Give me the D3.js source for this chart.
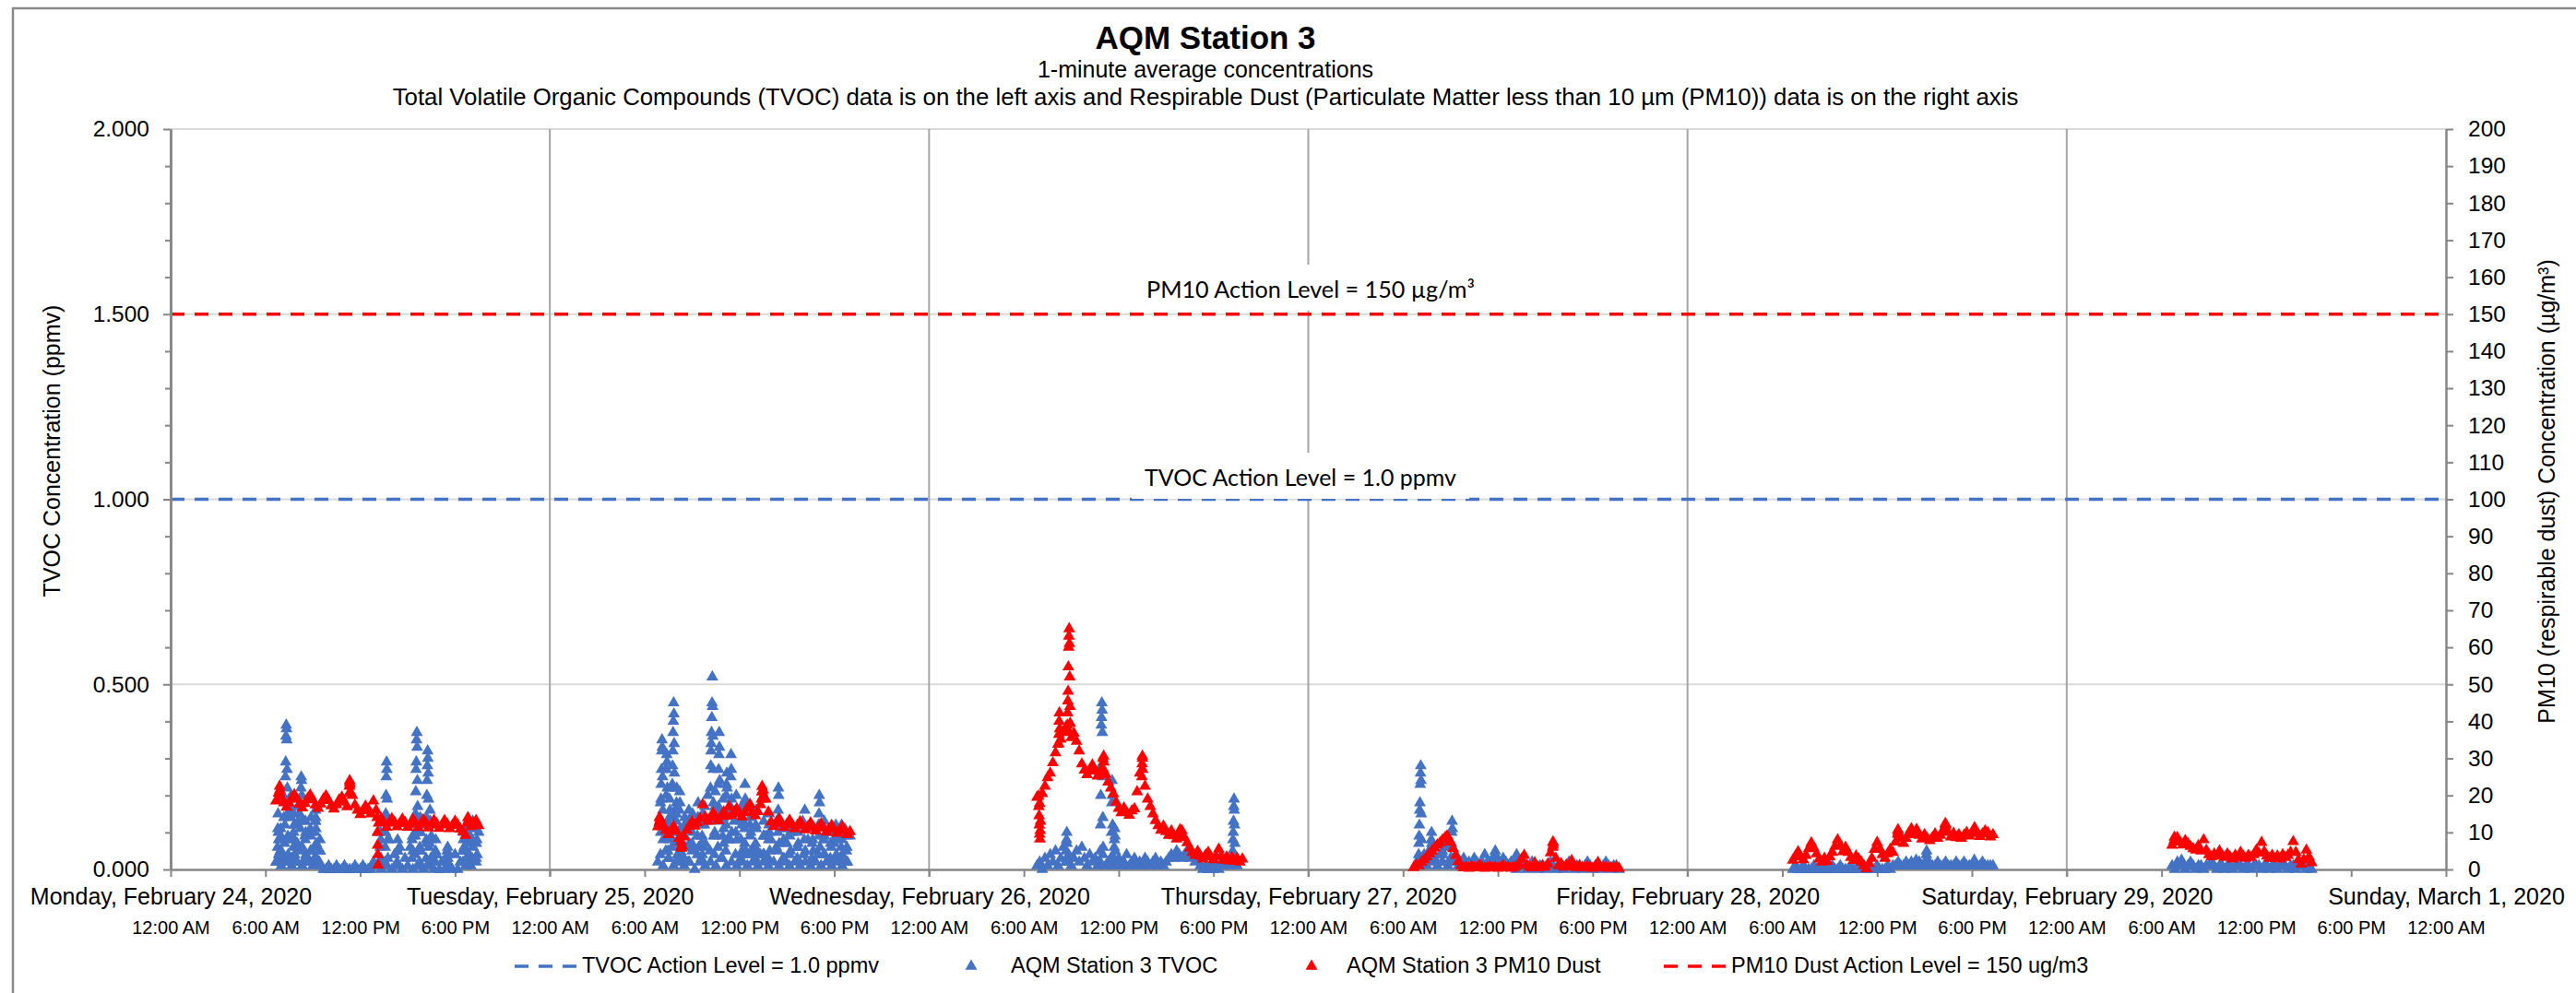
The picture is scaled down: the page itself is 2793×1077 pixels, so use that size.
<!DOCTYPE html>
<html>
<head>
<meta charset="utf-8">
<script src="https://cdn.jsdelivr.net/npm/d3@7"></script>
<style>
body{margin:0;background:#ffffff;}
svg{display:block;font-family:"Liberation Sans",Arial,sans-serif;}
</style>
</head>
<body>
<div id="ChartPart"></div>
<script>
//Chart texts---------------------------------------------------------------------------------------------
var chartTitle = "AQM Station 3";
var chartSubtitles = ["1-minute average concentrations",
	"Total Volatile Organic Compounds (TVOC) data is on the left axis and Respirable Dust (Particulate Matter less than 10 \u00b5m (PM10)) data is on the right axis"];
var leftAxisTitle = "TVOC Concentration (ppmv)";
var rightAxisTitle = "PM10 (respirable dust) Concentration (\u00b5g/m\u00b3)";
var legendLabels = ["TVOC Action Level = 1.0 ppmv", "AQM Station 3 TVOC", "AQM Station 3 PM10 Dust", "PM10 Dust Action Level = 150 ug/m3"];
var actionLabels = ["PM10 Action Level = 150 \u00b5g/m\u00b3", "TVOC Action Level = 1.0 ppmv"];

//Axes-----------------------------------------------------------------------------------------------------
var axisStart = "2020-02-24 00:00";
var axisEnd = "2020-03-01 00:00";
var tvocTicks = [0, 0.5, 1, 1.5, 2];
var tvocMinorTicks = [0.1, 0.2, 0.3, 0.4, 0.6, 0.7, 0.8, 0.9, 1.1, 1.2, 1.3, 1.4, 1.6, 1.7, 1.8, 1.9];
var pm10Ticks = [0, 10, 20, 30, 40, 50, 60, 70, 80, 90, 100, 110, 120, 130, 140, 150, 160, 170, 180, 190, 200];
var tvocActionLevel = 1.0;
var pm10ActionLevel = 150;

//Readings: one list per day, a reading every sampleMinutes from the start time------------------------------
var sampleMinutes = 10;
var tvocStarts = ["2020-02-24 06:40", "2020-02-25 06:50", "2020-02-26 06:50", "2020-02-27 06:50", "2020-02-28 06:40", "2020-02-29 06:40"];
var tvocMon = [0.02,0.08,0.01,0.14,0.02,0.19,0.01,0.12,0.02,0.15,0.01,0.09,0.02,0.11,0.01,0.13,0.02,0.01,0.00,
	0.00,0.01,0.00,0.00,0.01,0.00,0.00,0.01,0.00,0.00,0.00,0.01,0.00,0.00,0.01,0.00,0.00,
	0.00,0.02,0.01,0.10,0.00,0.14,0.01,0.08,0.00,0.04,0.01,0.06,0.00,0.03,
	0.01,0.06,0.00,0.10,0.01,0.12,0.00,0.07,0.01,0.09,0.00,0.04,
	0.00,0.02,0.00,0.05,0.01,0.00,0.04,0.00,0.02,
	0.05,0.01,0.09,0.01,0.12,0.02,0.10];
var tvocTue = [0.02,0.18,0.01,0.27,0.03,0.22,0.01,0.15,0.02,0.10,
	0.01,0.13,0.02,0.07,0.00,0.09,0.02,0.15,0.01,0.20,
	0.02,0.14,0.01,0.17,0.03,0.11,0.01,0.08,0.02,0.13,
	0.01,0.16,0.02,0.07,0.01,0.12,0.02,0.06,0.01,0.04,
	0.02,0.09,0.01,0.08,0.02,0.06,0.01,0.11,0.02,0.07,
	0.01,0.10,0.02,0.06,0.01,0.13,0.02,0.08,0.01,0.05,
	0.02,0.12,0.01,0.08,0.02,0.10,0.01,0.07,0.02,0.09,
	0.01,0.11,0.02,0.09];
var tvocWed = [0.01,0.02,0.00,0.03,0.01,0.04,0.02,0.05,0.01,0.03,
	0.06,0.02,0.04,0.01,0.03,0.05,0.02,0.06,0.03,0.01,
	0.04,0.02,0.03,0.01,0.02,0.04,0.01,0.02,0.03,0.01,
	0.02,0.03,0.01,0.02,0.04,0.01,0.02,0.03,0.01,0.02,
	0.01,0.03,0.02,0.01,0.02,0.03,0.01,0.02,0.01,0.02,
	0.03,0.04,0.03,0.05,0.04,0.03,0.04,0.05,0.03,0.04,
	0.02,0.03,0.01,0.00,0.01,0.00,0.01,0.00,0.01,0.00,
	0.02,0.01,0.02,0.01,0.03,0.02,0.01];
var tvocThu = [0.01,0.03,0.02,0.04,0.01,0.05,0.02,0.03,0.01,0.04,
	0.02,0.06,0.01,0.03,0.02,0.04,0.01,0.02,0.03,0.01,
	0.02,0.01,0.03,0.02,0.01,0.02,0.04,0.02,0.01,0.03,
	0.01,0.02,0.01,0.03,0.02,0.01,0.02,0.01,0.00,0.01,
	0.02,0.01,0.00,0.01,0.02,0.01,0.00,0.01,0.01,0.00,
	0.01,0.02,0.01,0.00,0.01,0.01,0.00,0.01,0.02,0.01,
	0.00,0.01,0.01,0.00,0.01,0.02,0.01,0.00,0.01,0.01,
	0.00,0.01,0.02,0.01,0.00,0.01,0.01,0.00];
var tvocFri = [0.00,0.01,0.00,0.00,0.01,0.00,0.00,0.00,0.01,0.00,
	0.00,0.01,0.00,0.00,0.00,0.01,0.00,0.00,0.01,0.00,
	0.00,0.00,0.01,0.00,0.00,0.01,0.00,0.00,0.00,0.01,
	0.00,0.00,0.01,0.00,0.00,0.00,0.01,0.00,0.01,
	0.01,0.02,0.01,0.01,0.02,0.01,0.02,0.01,0.01,0.02,
	0.01,0.01,0.02,0.01,0.01,0.01,0.02,0.01,0.01,0.02,
	0.01,0.01,0.01,0.02,0.01,0.01,0.02,0.01,0.01,0.01,
	0.02,0.01,0.01,0.02,0.01,0.01,0.01,0.01];
var tvocSat = [0.01,0.00,0.02,0.01,0.01,0.00,0.01,0.02,0.01,0.00,
	0.01,0.01,0.00,0.01,0.01,0.02,0.01,0.00,0.01,0.01,
	0.00,0.01,0.01,0.00,0.01,0.01,0.01,0.00,0.01,0.01,
	0.00,0.01,0.01,0.01,0.00,0.01,0.01,0.00,0.01,0.01,
	0.00,0.01,0.01,0.01,0.00,0.01,0.01,0.00,0.01,0.01,
	0.01,0.00,0.01,0.00];

var pm10Starts = ["2020-02-24 06:40", "2020-02-25 06:50", "2020-02-26 06:50", "2020-02-27 06:40", "2020-02-28 06:40", "2020-02-29 06:40"];
var pm10Mon = [18.5,20.6,19.4,18.0,16.8,17.9,19.3,20.2,19.0,17.6,
	16.6,17.8,19.2,20.1,18.8,17.4,16.5,17.7,19.0,19.9,
	18.6,17.2,16.3,17.5,18.8,19.5,18.2,16.9,23.5,20.0,
	17.4,16.0,14.8,15.9,17.1,16.3,15.0,18.5,16.0,12.5,
	13.8,12.6,11.4,12.5,13.7,12.8,11.5,12.4,13.6,12.7,
	11.4,12.3,13.5,12.6,11.3,12.2,13.4,12.5,11.2,12.1,
	13.3,12.4,11.1,12.0,13.2,12.3,11.0,11.9,13.0,12.1,
	10.9,10.2,9.2,12.8,11.6,12.5,13.2,11.8];
var pm10Tue = [11.5,13.6,12.0,10.6,9.4,10.5,11.6,10.3,8.4,6.4,
	8.8,10.6,11.8,12.9,11.7,12.6,13.8,17.5,14.2,13.0,
	14.1,15.2,14.0,13.2,14.3,15.5,14.4,16.9,14.6,15.6,
	16.4,15.2,14.2,15.3,16.5,17.6,15.4,14.5,15.6,17.5,
	21.5,19.0,15.5,12.8,11.6,12.7,13.6,12.4,11.3,12.2,
	13.3,12.1,11.0,11.9,12.9,11.8,10.7,11.6,12.6,11.5,
	10.4,11.3,12.3,11.2,10.1,11.0,11.9,10.8,9.8,10.6,
	11.5,10.3,9.4,10.2];
var pm10Wed = [19.5,17.8,20.5,22.5,24.8,26.0,28.8,31.5,33.8,35.2,
	37.0,38.5,37.2,35.6,36.8,34.6,32.0,28.5,26.8,25.6,
	27.0,28.2,26.6,25.2,26.5,30.0,25.8,23.6,22.0,20.4,
	18.2,16.5,15.3,16.6,15.4,14.6,15.8,16.4,21.0,26.0,
	30.0,22.5,19.0,17.0,15.0,13.2,11.8,10.6,11.7,10.2,
	9.2,10.4,9.1,8.2,9.3,10.5,8.6,7.2,5.8,4.6,
	3.8,4.9,3.6,2.8,3.9,4.6,3.4,2.6,3.5,5.5,
	3.6,2.5,3.4,2.3,3.2,2.2,3.0,2.0,2.8];
var pm10Thu = [0.5,1.2,1.0,2.0,2.6,3.4,4.2,5.0,5.8,6.6,
	7.2,8.0,8.6,8.8,7.4,5.6,3.8,2.2,1.0,0.4,
	0.6,0.3,0.8,0.5,0.4,1.2,0.6,0.3,0.5,0.7,
	0.4,0.6,0.3,0.5,1.0,0.4,0.6,0.3,0.5,0.8,
	1.5,2.8,3.8,1.2,0.6,0.4,1.8,0.7,0.5,1.0,
	0.6,1.5,4.5,7.2,3.0,1.0,1.6,0.6,1.2,0.8,
	2.4,0.7,0.5,1.0,0.6,0.4,0.8,0.5,0.3,0.6,
	1.9,0.5,0.4,0.7,0.3,0.5,0.4,0.6,0.3];
var pm10Fri = [2.5,3.6,4.8,3.4,2.6,3.8,5.6,7.2,5.8,4.2,
	2.8,2.0,3.0,2.2,3.4,4.6,6.2,8.0,6.4,4.8,
	6.0,4.6,3.2,2.4,3.6,2.8,2.0,1.0,0.2,1.6,
	3.0,5.4,7.3,5.6,4.0,3.0,4.2,5.4,4.6,7.4,
	10.5,8.4,7.0,8.4,9.8,11.0,9.4,10.8,9.2,8.2,
	9.4,8.4,7.8,8.6,9.6,8.4,9.2,10.5,12.2,10.0,
	8.8,9.8,8.6,9.4,8.4,9.2,10.0,9.0,9.8,11.3,
	9.8,8.9,9.6,10.4,10.0,8.8,9.4];
var pm10Sat = [6.5,7.8,8.6,7.4,6.6,7.8,7.0,6.2,5.6,5.2,
	6.4,5.0,8.0,5.2,4.0,3.4,4.2,3.6,5.0,3.8,
	3.2,4.2,3.4,2.8,3.8,3.2,4.6,3.6,3.0,3.8,
	3.2,4.0,5.2,4.4,7.3,4.8,3.6,3.0,3.8,2.9,
	3.6,2.8,4.0,3.2,3.8,4.6,7.5,4.6,2.6,1.4,
	2.6,5.2,3.4,1.8];

//Short runs of consecutive 1-minute readings around the peaks---------------------------------------------
var tvocBursts = [
	["2020-02-24 06:45", [0.02,0.06,0.11,0.15,0.10,0.04]],
	["2020-02-24 06:55", [0.02,0.05,0.08,0.11,0.09,0.05,0.02]],
	["2020-02-24 07:12", [0.03,0.07,0.12,0.19,0.25,0.29,0.36,0.39,0.38,0.35,0.27,0.22,0.15,0.09,0.04]],
	["2020-02-24 07:35", [0.03,0.08,0.14,0.20,0.16,0.09,0.03]],
	["2020-02-24 07:45", [0.02,0.06,0.10,0.15,0.12,0.08,0.04]],
	["2020-02-24 08:00", [0.02,0.07,0.12,0.17,0.13,0.06]],
	["2020-02-24 08:12", [0.05,0.11,0.18,0.22,0.25,0.24,0.20,0.13,0.06]],
	["2020-02-24 08:30", [0.03,0.08,0.13,0.10,0.04]],
	["2020-02-24 08:50", [0.02,0.05,0.09,0.14,0.10,0.05]],
	["2020-02-24 09:06", [0.03,0.06,0.10,0.13,0.16,0.14,0.11,0.07,0.03]],
	["2020-02-24 09:25", [0.02,0.05,0.08,0.05]],
	["2020-02-24 13:15", [0.02,0.06,0.10,0.08,0.03]],
	["2020-02-24 13:34", [0.02,0.06,0.10,0.15,0.20,0.25,0.29,0.27,0.19,0.14,0.08,0.03]],
	["2020-02-24 14:20", [0.02,0.05,0.08,0.05]],
	["2020-02-24 15:16", [0.03,0.08,0.12,0.09,0.05]],
	["2020-02-24 15:28", [0.04,0.09,0.15,0.21,0.27,0.29,0.35,0.37,0.33,0.24,0.17,0.10,0.05]],
	["2020-02-24 15:45", [0.02,0.06,0.10,0.14,0.10,0.05]],
	["2020-02-24 16:10", [0.03,0.08,0.14,0.20,0.24,0.28,0.32,0.30,0.26,0.19,0.12,0.06]],
	["2020-02-24 16:22", [0.02,0.07,0.12,0.16,0.13,0.08,0.03]],
	["2020-02-24 16:45", [0.02,0.05,0.08,0.04]],
	["2020-02-24 17:30", [0.02,0.04,0.06,0.03]],
	["2020-02-24 18:30", [0.02,0.05,0.08,0.10,0.06]],
	["2020-02-24 18:45", [0.02,0.05,0.09,0.12,0.10,0.07,0.04]],
	["2020-02-24 19:05", [0.03,0.08,0.13,0.11,0.06]],
	["2020-02-24 19:20", [0.03,0.07,0.11,0.08,0.04]],
	["2020-02-25 07:00", [0.04,0.10,0.19,0.23,0.27,0.32,0.35,0.33,0.25,0.16,0.08]],
	["2020-02-25 07:20", [0.05,0.12,0.20,0.27,0.31,0.29,0.22,0.13,0.05]],
	["2020-02-25 07:32", [0.03,0.08,0.14,0.19,0.16,0.09]],
	["2020-02-25 07:43", [0.06,0.14,0.23,0.28,0.32,0.37,0.40,0.45,0.42,0.34,0.26,0.15,0.07]],
	["2020-02-25 07:58", [0.02,0.07,0.13,0.18,0.22,0.17,0.10,0.04]],
	["2020-02-25 08:10", [0.04,0.10,0.16,0.21,0.18,0.11,0.05]],
	["2020-02-25 08:30", [0.03,0.09,0.14,0.12,0.06]],
	["2020-02-25 08:45", [0.02,0.06,0.11,0.16,0.13,0.07]],
	["2020-02-25 09:00", [0.05,0.10,0.15,0.12,0.06]],
	["2020-02-25 09:20", [0.04,0.09,0.14,0.18,0.13,0.06]],
	["2020-02-25 09:35", [0.03,0.07,0.12,0.09,0.04]],
	["2020-02-25 09:46", [0.06,0.12,0.17,0.13,0.07]],
	["2020-02-25 10:08", [0.05,0.13,0.22,0.28,0.32,0.34,0.37,0.41,0.45,0.52,0.44,0.36,0.27,0.18,0.09]],
	["2020-02-25 10:25", [0.04,0.10,0.17,0.21,0.16,0.09]],
	["2020-02-25 10:38", [0.06,0.15,0.23,0.27,0.31,0.37,0.33,0.24,0.13]],
	["2020-02-25 10:55", [0.03,0.09,0.15,0.19,0.14,0.07]],
	["2020-02-25 11:08", [0.05,0.12,0.20,0.23,0.26,0.22,0.16,0.08]],
	["2020-02-25 11:25", [0.08,0.17,0.25,0.31,0.27,0.19,0.10]],
	["2020-02-25 11:45", [0.04,0.10,0.16,0.20,0.15,0.08]],
	["2020-02-25 12:05", [0.03,0.08,0.13,0.17,0.12,0.05]],
	["2020-02-25 12:18", [0.04,0.11,0.18,0.23,0.19,0.12,0.05]],
	["2020-02-25 12:40", [0.04,0.09,0.14,0.10,0.05]],
	["2020-02-25 13:00", [0.03,0.07,0.12,0.16,0.11,0.05]],
	["2020-02-25 13:30", [0.04,0.09,0.13,0.09,0.04]],
	["2020-02-25 13:50", [0.03,0.08,0.12,0.15,0.10,0.05]],
	["2020-02-25 14:25", [0.05,0.10,0.16,0.22,0.20,0.14,0.07]],
	["2020-02-25 14:45", [0.03,0.07,0.11,0.08,0.03]],
	["2020-02-25 15:10", [0.04,0.09,0.13,0.10,0.05]],
	["2020-02-25 15:40", [0.03,0.06,0.10,0.07]],
	["2020-02-25 16:05", [0.04,0.08,0.12,0.16,0.11,0.05]],
	["2020-02-25 16:35", [0.03,0.07,0.11,0.08]],
	["2020-02-25 17:00", [0.04,0.09,0.15,0.20,0.18,0.12,0.06]],
	["2020-02-25 17:20", [0.04,0.08,0.13,0.09,0.04]],
	["2020-02-25 17:45", [0.03,0.07,0.10,0.06]],
	["2020-02-25 18:04", [0.03,0.08,0.12,0.09,0.04]],
	["2020-02-25 18:25", [0.03,0.06,0.10,0.12,0.08,0.04]],
	["2020-02-25 18:45", [0.02,0.05,0.09,0.06]],
	["2020-02-26 08:40", [0.02,0.05,0.08,0.10,0.07,0.03]],
	["2020-02-26 10:50", [0.05,0.12,0.20,0.28,0.39,0.41,0.45,0.43,0.37,0.25,0.14,0.06]],
	["2020-02-26 11:33", [0.10,0.18,0.24,0.20,0.12]],
	["2020-02-26 11:42", [0.03,0.06,0.08,0.11,0.09,0.05]],
	["2020-02-26 19:12", [0.03,0.05,0.08,0.10,0.13,0.17,0.19,0.16,0.12,0.07,0.03]],
	["2020-02-27 06:58", [0.02,0.04,0.07,0.09,0.12,0.16,0.18,0.23,0.26,0.28,0.24,0.15,0.08,0.03]],
	["2020-02-27 07:45", [0.03,0.06,0.08,0.10,0.07,0.04]],
	["2020-02-27 08:28", [0.02,0.05,0.07,0.04]],
	["2020-02-27 09:03", [0.03,0.07,0.10,0.13,0.11,0.06,0.02]],
	["2020-02-27 11:48", [0.02,0.04,0.05,0.04,0.02]],
	["2020-02-27 13:10", [0.02,0.04,0.03]],
	["2020-02-28 14:27", [0.02,0.025,0.02]],
	["2020-02-28 15:06", [0.02,0.04,0.05,0.03]],
	["2020-02-28 18:08", [0.02,0.025,0.02]],
	["2020-02-29 07:15", [0.015,0.025,0.02]]
];
var pm10Bursts = [
	["2020-02-24 06:52", [19.5,21.0,22.5,21.5,20.0]],
	["2020-02-24 11:18", [20.5,22.5,24.0,23.0,21.0]],
	["2020-02-24 13:04", [14.0,10.0,6.5,4.0,1.2]],
	["2020-02-24 18:48", [12.5,14.0,13.2]],
	["2020-02-25 06:55", [12.5,14.0,13.0]],
	["2020-02-25 08:18", [7.5,6.0,5.7,6.5]],
	["2020-02-25 13:24", [19.0,21.0,22.4,21.0,19.5]],
	["2020-02-26 06:56", [19.8,17.0,14.5,12.0,9.5,8.2,10.5,13.0]],
	["2020-02-26 08:12", [34.0,36.5,40.0,42.3,38.0]],
	["2020-02-26 08:45", [39.0,42.3,45.5,48.1,54.7,60.0,63.0,65.0,61.0,52.0,44.0,39.5]],
	["2020-02-26 11:02", [27.0,30.6,29.0,25.5]],
	["2020-02-26 13:28", [25.0,28.5,30.6,27.0]],
	["2020-02-26 15:52", [9.5,10.7,9.8]],
	["2020-02-27 08:45", [8.2,9.0,8.5]],
	["2020-02-27 15:28", [6.0,7.4,6.5]],
	["2020-02-28 13:18", [9.5,10.7,10.0]],
	["2020-02-28 16:18", [11.0,12.4,11.8]],
	["2020-02-29 06:48", [7.8,8.7,8.0]]
];

//Layout---------------------------------------------------------------------------------------------------
var ChartWidth = 2793;
var ChartHeight = 1077;
var PlotLeft = 185;
var PlotRight = 2652;
var PlotTop = 140;
var PlotBottom = 943;
var TitleCenter = 1307;
var tvocColor = "#4472C4";
var pm10Color = "#FF0000";

var parseTime = d3.timeParse("%Y-%m-%d %H:%M");

var svg = d3.select("#ChartPart")
	.append("svg")
	.attr("width", ChartWidth)
	.attr("height", ChartHeight);

svg.append("rect")
	.attr("width", ChartWidth)
	.attr("height", ChartHeight)
	.attr("fill", "#ffffff");

//Chart border
svg.append("rect")
	.attr("x", 14)
	.attr("y", 9)
	.attr("width", ChartWidth)
	.attr("height", ChartHeight)
	.attr("fill", "none")
	.attr("stroke", "#8a8a8a")
	.attr("stroke-width", 2.5);

var x = d3.scaleTime()
	.domain([parseTime(axisStart), parseTime(axisEnd)])
	.range([PlotLeft, PlotRight]);
var yLeft = d3.scaleLinear().domain([0, 2]).range([PlotBottom, PlotTop]);
var yRight = d3.scaleLinear().domain([0, 200]).range([PlotBottom, PlotTop]);

//Turn day lists and bursts into points--------------------------------------------------------------------
function BuildPoints(Starts, Days, Bursts)
{
	var Points = [];
	for (var i = 0; i < Days.length; i++)
	{
		var Start = parseTime(Starts[i]);
		for (var j = 0; j < Days[i].length; j++)
		{
			Points.push({time: d3.timeMinute.offset(Start, j * sampleMinutes), value: Days[i][j]});
		}
	}
	for (var k = 0; k < Bursts.length; k++)
	{
		var BurstStart = parseTime(Bursts[k][0]);
		for (var m = 0; m < Bursts[k][1].length; m++)
		{
			Points.push({time: d3.timeMinute.offset(BurstStart, m), value: Bursts[k][1][m]});
		}
	}
	return Points;
}

var tvocPoints = BuildPoints(tvocStarts, [tvocMon, tvocTue, tvocWed, tvocThu, tvocFri, tvocSat], tvocBursts);
var pm10Points = BuildPoints(pm10Starts, [pm10Mon, pm10Tue, pm10Wed, pm10Thu, pm10Fri, pm10Sat], pm10Bursts);

//Titles---------------------------------------------------------------------------------------------------
svg.append("text")
	.attr("x", TitleCenter)
	.attr("y", 53)
	.attr("text-anchor", "middle")
	.style("font-size", "35px")
	.style("font-weight", "bold")
	.text(chartTitle);

svg.append("text")
	.attr("x", TitleCenter)
	.attr("y", 84)
	.attr("text-anchor", "middle")
	.style("font-size", "25px")
	.text(chartSubtitles[0]);

svg.append("text")
	.attr("x", TitleCenter)
	.attr("y", 114)
	.attr("text-anchor", "middle")
	.style("font-size", "25.8px")
	.text(chartSubtitles[1]);

//Gridlines------------------------------------------------------------------------------------------------
svg.append("g")
	.selectAll("line")
	.data(tvocTicks.slice(1))
	.enter()
	.append("line")
	.attr("x1", PlotLeft)
	.attr("x2", PlotRight)
	.attr("y1", function(d){ return yLeft(d); })
	.attr("y2", function(d){ return yLeft(d); })
	.attr("stroke", "#d9d9d9")
	.attr("stroke-width", 2);

var DayLines = x.ticks(d3.timeDay.every(1)).slice(1, -1);
svg.append("g")
	.selectAll("line")
	.data(DayLines)
	.enter()
	.append("line")
	.attr("x1", function(d){ return x(d); })
	.attr("x2", function(d){ return x(d); })
	.attr("y1", PlotTop)
	.attr("y2", PlotBottom + 8)
	.attr("stroke", "#a5a5a5")
	.attr("stroke-width", 2);

//Action level lines---------------------------------------------------------------------------------------
svg.append("line")
	.attr("x1", PlotLeft).attr("x2", PlotRight)
	.attr("y1", yRight(pm10ActionLevel)).attr("y2", yRight(pm10ActionLevel))
	.attr("stroke", pm10Color)
	.attr("stroke-width", 3.5)
	.attr("stroke-dasharray", "15 11");

svg.append("line")
	.attr("x1", PlotLeft).attr("x2", PlotRight)
	.attr("y1", yLeft(tvocActionLevel)).attr("y2", yLeft(tvocActionLevel))
	.attr("stroke", tvocColor)
	.attr("stroke-width", 3.5)
	.attr("stroke-dasharray", "15 11");

//Axes-----------------------------------------------------------------------------------------------------
function StyleAxis(Axis, FontSize)
{
	Axis.attr("font-family", null).attr("font-size", null);
	Axis.selectAll("text").style("font-size", FontSize + "px").attr("fill", "#000000");
	Axis.selectAll("line").attr("stroke", "#868686").attr("stroke-width", 2);
	Axis.select(".domain").attr("stroke", "#868686").attr("stroke-width", 2.5);
}

var LeftMinor = svg.append("g")
	.attr("transform", "translate(" + PlotLeft + ",0)")
	.call(d3.axisLeft(yLeft).tickValues(tvocMinorTicks).tickSize(6).tickSizeOuter(0).tickFormat(""));
StyleAxis(LeftMinor, 24);

var LeftAxis = svg.append("g")
	.attr("transform", "translate(" + PlotLeft + ",0)")
	.call(d3.axisLeft(yLeft).tickValues(tvocTicks).tickSize(8).tickSizeOuter(0).tickPadding(15).tickFormat(d3.format(".3f")));
StyleAxis(LeftAxis, 24.5);

var RightAxis = svg.append("g")
	.attr("transform", "translate(" + PlotRight + ",0)")
	.call(d3.axisRight(yRight).tickValues(pm10Ticks).tickSize(8).tickSizeOuter(0).tickPadding(16).tickFormat(d3.format("d")));
StyleAxis(RightAxis, 24.5);

var TimeAxis = svg.append("g")
	.attr("transform", "translate(0," + PlotBottom + ")")
	.call(d3.axisBottom(x).ticks(d3.timeHour.every(6)).tickSize(8).tickSizeOuter(0).tickPadding(48).tickFormat(d3.timeFormat("%-I:%M %p")));
StyleAxis(TimeAxis, 20);

var DayAxis = svg.append("g")
	.attr("transform", "translate(0," + PlotBottom + ")")
	.call(d3.axisBottom(x).ticks(d3.timeDay.every(1)).tickSize(0).tickPadding(20).tickFormat(d3.timeFormat("%A, %B %-d, %Y")));
StyleAxis(DayAxis, 25);
DayAxis.select(".domain").remove();

//Axis titles
svg.append("text")
	.attr("transform", "translate(65,489) rotate(-90)")
	.attr("text-anchor", "middle")
	.style("font-size", "25px")
	.text(leftAxisTitle);

svg.append("text")
	.attr("transform", "translate(2770,533) rotate(-90)")
	.attr("text-anchor", "middle")
	.style("font-size", "25px")
	.text(rightAxisTitle);

//Data points----------------------------------------------------------------------------------------------
var Triangle = d3.symbol().type(d3.symbolTriangle).size(72);

svg.append("g")
	.selectAll("path")
	.data(tvocPoints)
	.enter()
	.append("path")
	.attr("d", Triangle)
	.attr("transform", function(d){ return "translate(" + x(d.time) + "," + yLeft(d.value) + ")"; })
	.attr("fill", tvocColor);

svg.append("g")
	.selectAll("path")
	.data(pm10Points)
	.enter()
	.append("path")
	.attr("d", Triangle)
	.attr("transform", function(d){ return "translate(" + x(d.time) + "," + yRight(d.value) + ")"; })
	.attr("fill", pm10Color);

//Action level labels with white boxes----------------------------------------------------------------------
function ActionLabel(Label, CenterX, BaseY, TargetWidth)
{
	var Group = svg.append("g");
	var Box = Group.append("rect").attr("fill", "#ffffff");
	var Text = Group.append("text")
		.attr("x", CenterX)
		.attr("y", BaseY)
		.attr("text-anchor", "middle")
		.style("font-family", "Lato, 'Open Sans', sans-serif")
		.style("font-size", "25px")
		.text(Label);
	var Width = Text.node().getComputedTextLength();
	Text.style("font-size", (25 * TargetWidth / Width) + "px");
	Box.attr("x", CenterX - TargetWidth / 2 - 14)
		.attr("y", BaseY - 36)
		.attr("width", TargetWidth + 28)
		.attr("height", 50);
}
ActionLabel(actionLabels[0], 1421, 323, 356);
ActionLabel(actionLabels[1], 1410, 527, 338);

//Legend---------------------------------------------------------------------------------------------------
var LegendBase = 1055;
var LegendMid = 1048;
var Legend = svg.append("g").style("font-size", "23.5px");

Legend.append("line")
	.attr("x1", 558).attr("x2", 625).attr("y1", LegendMid).attr("y2", LegendMid)
	.attr("stroke", tvocColor).attr("stroke-width", 3.5).attr("stroke-dasharray", "15 11");
Legend.append("text").attr("x", 631).attr("y", LegendBase).text(legendLabels[0]);

Legend.append("path")
	.attr("d", Triangle)
	.attr("transform", "translate(1053," + LegendMid + ")")
	.attr("fill", tvocColor);
Legend.append("text").attr("x", 1096).attr("y", LegendBase).text(legendLabels[1]);

Legend.append("path")
	.attr("d", Triangle)
	.attr("transform", "translate(1422," + LegendMid + ")")
	.attr("fill", pm10Color);
Legend.append("text").attr("x", 1460).attr("y", LegendBase).text(legendLabels[2]);

Legend.append("line")
	.attr("x1", 1804).attr("x2", 1871).attr("y1", LegendMid).attr("y2", LegendMid)
	.attr("stroke", pm10Color).attr("stroke-width", 3.5).attr("stroke-dasharray", "15 11");
Legend.append("text").attr("x", 1877).attr("y", LegendBase).text(legendLabels[3]);
</script>
</body>
</html>
